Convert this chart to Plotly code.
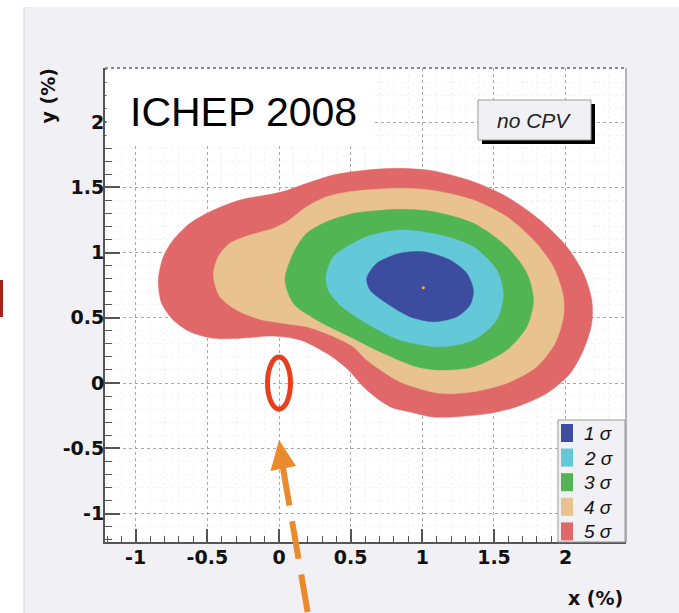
import plotly.graph_objects as go

# ---------------- data (x %, y %) ----------------
sig5_x = [-0.842, -0.807, -0.738, -0.621, -0.481, -0.272, -0.040, 0.054, 0.193, 0.379,
          0.612, 0.844, 1.077, 1.356, 1.589, 1.821, 2.008, 2.124, 2.182, 2.182,
          2.124, 2.031, 1.868, 1.659, 1.472, 1.240, 1.077, 0.914, 0.775, 0.612,
          0.472, 0.333, 0.147, -0.040, -0.272, -0.458, -0.621, -0.738, -0.819]
sig5_y = [0.789, 0.968, 1.096, 1.224, 1.313, 1.402, 1.450, 1.475, 1.530, 1.594,
          1.632, 1.645, 1.625, 1.543, 1.428, 1.249, 1.044, 0.841, 0.636, 0.457,
          0.253, 0.074, -0.079, -0.182, -0.232, -0.258, -0.261, -0.222, -0.182, -0.054,
          0.113, 0.228, 0.330, 0.360, 0.343, 0.343, 0.393, 0.483, 0.611]

sig4_x = [-0.458, -0.424, -0.342, -0.202, -0.040, 0.054, 0.193, 0.333, 0.495, 0.612,
          0.844, 1.077, 1.356, 1.589, 1.775, 1.914, 1.984, 1.984, 1.926, 1.798,
          1.589, 1.356, 1.124, 0.844, 0.612, 0.518, 0.356, 0.193, 0.030, -0.133,
          -0.295, -0.412]
sig4_y = [0.828, 0.968, 1.071, 1.134, 1.185, 1.236, 1.351, 1.428, 1.466, 1.479,
          1.492, 1.475, 1.402, 1.274, 1.096, 0.891, 0.661, 0.508, 0.304, 0.125,
          -0.002, -0.067, -0.079, 0.010, 0.176, 0.278, 0.368, 0.431, 0.457, 0.488,
          0.559, 0.661]

sig3_x = [0.042, 0.100, 0.193, 0.333, 0.518, 0.612, 0.844, 1.077, 1.356, 1.589,
          1.729, 1.775, 1.729, 1.589, 1.356, 1.124, 0.961, 0.728, 0.495, 0.263, 0.100]
sig3_y = [0.789, 0.994, 1.147, 1.236, 1.300, 1.313, 1.331, 1.313, 1.224, 1.044,
          0.841, 0.636, 0.431, 0.253, 0.125, 0.100, 0.125, 0.228, 0.355, 0.483, 0.611]

sig2_x = [0.328, 0.379, 0.495, 0.612, 0.844, 1.124, 1.356, 1.519, 1.565, 1.519,
          1.356, 1.124, 0.844, 0.612, 0.426, 0.344]
sig2_y = [0.815, 0.968, 1.057, 1.121, 1.172, 1.134, 1.044, 0.866, 0.687, 0.483,
          0.330, 0.278, 0.330, 0.457, 0.598, 0.713]

sig1_x = [0.612, 0.682, 0.844, 1.007, 1.193, 1.310, 1.356, 1.333, 1.240, 1.077,
          0.914, 0.752, 0.635]
sig1_y = [0.802, 0.917, 0.994, 1.006, 0.943, 0.841, 0.713, 0.598, 0.508, 0.470,
          0.508, 0.611, 0.713]

best_fit_x = [1.007]
best_fit_y = [0.73]

levels = ["1", "2", "3", "4", "5"]
level_colors = ["#3c4c9e", "#63c8d8", "#51b553", "#e8c28f", "#e16868"]
contours_x = [sig1_x, sig2_x, sig3_x, sig4_x, sig5_x]
contours_y = [sig1_y, sig2_y, sig3_y, sig4_y, sig5_y]

tick_vals = [-1, -0.5, 0, 0.5, 1, 1.5, 2]
tick_text = ["-1", "-0.5", "0", "0.5", "1", "1.5", "2"]

# no-CPV point marked by the ellipse
nocpv_x, nocpv_y = 0.0, 0.0

# ---------------- layout geometry ----------------
W, H = 679, 613
ML, MR, MT, MB = 105, 53, 68, 71
PW, PH = W - ML - MR, H - MT - MB


def xp(px):
    return (px - ML) / PW


def yp(py):
    return (H - MB - py) / PH


BG = "#f0f0f5"
fig = go.Figure()

for i in reversed(range(5)):
    xs = contours_x[i] + [contours_x[i][0]]
    ys = contours_y[i] + [contours_y[i][0]]
    fig.add_trace(go.Scatter(
        x=xs, y=ys, mode="lines", fill="toself",
        fillcolor=level_colors[i],
        line=dict(color=level_colors[i], width=0.5, shape="spline", smoothing=0.8),
        hoverinfo="skip", showlegend=False))

fig.add_trace(go.Scatter(x=best_fit_x, y=best_fit_y, mode="markers",
                         marker=dict(size=3, color="#f2b04a"), showlegend=False,
                         hoverinfo="skip"))


def axis_common(ticklen, minorlen, standoff):
    return dict(
        showline=True, linecolor="#555", linewidth=2, mirror=False,
        ticks="inside", ticklen=ticklen, tickwidth=1.5, tickcolor="#555",
        tickvals=tick_vals, ticktext=tick_text, ticklabelstandoff=standoff,
        tickfont=dict(family="DejaVu Sans", size=19, color="#111", weight="bold"),
        showgrid=True, gridcolor="#a8a8a8", griddash="dot", gridwidth=1,
        zeroline=False, fixedrange=True,
        minor=dict(dtick=0.1, tick0=0, ticks="inside", ticklen=minorlen, tickwidth=1.2,
                   tickcolor="#555", showgrid=True, gridcolor="#f3f3f3"),
    )


shapes = []
# slide white margins on the left / top
shapes.append(dict(type="rect", xref="paper", yref="paper", x0=xp(0), x1=xp(24),
                   y0=yp(H), y1=yp(0), fillcolor="white", line_width=0, layer="below"))
shapes.append(dict(type="rect", xref="paper", yref="paper", x0=xp(0), x1=xp(W),
                   y0=yp(7), y1=yp(0), fillcolor="white", line_width=0, layer="below"))
shapes.append(dict(type="line", xref="paper", yref="paper", x0=xp(24), x1=xp(24),
                   y0=yp(7), y1=yp(H), line=dict(color="#d6d6dc", width=1)))
# red mark at the left edge
shapes.append(dict(type="line", xref="paper", yref="paper", x0=xp(1.5), x1=xp(1.5),
                   y0=yp(280), y1=yp(317), line=dict(color="#a52218", width=3)))

# ICHEP box
shapes.append(dict(type="rect", xref="paper", yref="paper", x0=xp(106.5), x1=xp(373),
                   y0=yp(145), y1=1, fillcolor="white", line_width=0, layer="above"))
# frame top / right
shapes.append(dict(type="line", xref="paper", yref="paper", x0=0, x1=1, y0=1, y1=1,
                   line=dict(color="#666", width=1.5, dash="dot")))
shapes.append(dict(type="line", xref="paper", yref="paper", x0=1, x1=1, y0=0, y1=1,
                   line=dict(color="#888", width=1.2)))

# no CPV box with shadow
shapes.append(dict(type="rect", xref="paper", yref="paper", x0=xp(482), x1=xp(595),
                   y0=yp(144), y1=yp(104), fillcolor="black", line_width=0, layer="above"))
shapes.append(dict(type="rect", xref="paper", yref="paper", x0=xp(478), x1=xp(591),
                   y0=yp(140), y1=yp(100), fillcolor=BG,
                   line=dict(color="#999", width=1), layer="above"))

# legend box
shapes.append(dict(type="rect", xref="paper", yref="paper", x0=xp(558), x1=xp(625),
                   y0=yp(542), y1=yp(420), fillcolor=BG,
                   line=dict(color="#999", width=1), layer="above"))
annotations = []
for i, (lab, col) in enumerate(zip(levels, level_colors)):
    top = 424 + 24.6 * i
    shapes.append(dict(type="rect", xref="paper", yref="paper", x0=xp(561), x1=xp(573),
                       y0=yp(top + 18), y1=yp(top), fillcolor=col, line_width=0,
                       layer="above"))
    annotations.append(dict(xref="paper", yref="paper", x=xp(582), y=yp(top + 9.5),
                            xanchor="left", yanchor="middle", showarrow=False,
                            text="<i>" + lab + "</i> <i>σ</i>",
                            font=dict(family="Liberation Sans", size=19, color="#111")))

# red ellipse around the no-CPV point
shapes.append(dict(type="circle", xref="x", yref="y",
                   x0=nocpv_x - 0.080, x1=nocpv_x + 0.080,
                   y0=nocpv_y - 0.199, y1=nocpv_y + 0.199,
                   line=dict(color="#e8401e", width=5), layer="above"))

# orange dashed arrow
ORANGE = "#e98a2c"
shapes.append(dict(type="line", xref="paper", yref="paper",
                   x0=xp(283), y0=yp(468), x1=xp(309), y1=yp(620),
                   line=dict(color=ORANGE, width=6, dash="38px,16px"), layer="above"))
shapes.append(dict(type="path", xref="paper", yref="paper",
                   path="M %f,%f L %f,%f L %f,%f Z" % (xp(279), yp(440), xp(270.5), yp(471),
                                                      xp(296), yp(466)),
                   fillcolor=ORANGE, line_width=0, layer="above"))

annotations += [
    dict(xref="paper", yref="paper", x=xp(128), y=yp(112), xanchor="left",
         yanchor="middle", showarrow=False, text="ICHEP 2008",
         font=dict(family="Liberation Sans", size=41, color="black")),
    dict(xref="paper", yref="paper", x=xp(533.5), y=yp(121), xanchor="center",
         yanchor="middle", showarrow=False, text="<i>no CPV</i>",
         font=dict(family="Liberation Sans", size=21, color="#222")),
    dict(xref="paper", yref="paper", x=xp(625), y=yp(598), xanchor="right",
         yanchor="middle", showarrow=False, text="x (%)",
         font=dict(family="DejaVu Sans", size=19, color="#111", weight="bold")),
    dict(xref="paper", yref="paper", x=xp(47), y=yp(96.5), xanchor="center",
         yanchor="middle", showarrow=False, text="y (%)", textangle=-90,
         font=dict(family="DejaVu Sans", size=19, color="#111", weight="bold")),
]

fig.update_layout(
    width=W, height=H, autosize=False,
    margin=dict(l=ML, r=MR, t=MT, b=MB, pad=0),
    paper_bgcolor=BG, plot_bgcolor="white",
    xaxis=dict(range=[-1.214, 2.421], **axis_common(13, 6, -3)),
    yaxis=dict(range=[-1.218, 2.414], **axis_common(15, 7, -5)),
    shapes=shapes, annotations=annotations, showlegend=False,
)

fig.write_html("out.html", config={"displayModeBar": False})
